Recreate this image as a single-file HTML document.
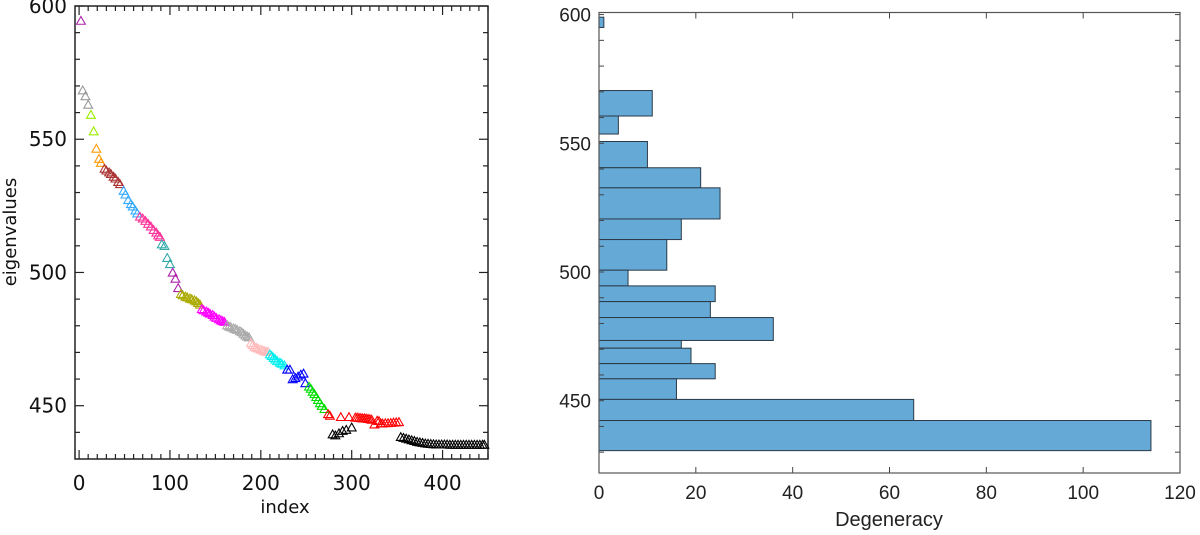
<!DOCTYPE html>
<html><head><meta charset="utf-8"><style>
html,body{margin:0;padding:0;background:#fff;}
svg{display:block;}
</style></head><body>
<svg id="chart" width="1200" height="535" xmlns="http://www.w3.org/2000/svg">
<g id="left"></g>
<g id="right"></g>
</svg>
<script>
// ---- Left chart data ----
const groupColors = ['#aa22aa','#999999','#99ee00','#ff9900','#aa3333','#33aaff','#ff3399','#33aaaa','#aa22aa','#aaaa00','#ff00ff','#aaaaaa','#ffbbbb','#00eeee','#0000ff','#00dd00','#ff0000','#000000'];
const pointIndex = [2, 4,7,10, 13,16, 19,22,24, 28,30,33,35,38,40,43,45, 49,51,54,57,59,62,64, 67,70,73,76,79,82,85,87,89, 91,94,97,100, 103,106,109,
112,114,117,119,122,124,127,129,131,133, 135,137,140,142,144,147,149,151,154,156,158,160,
163,165,167,170,172,174,177,179,181,183,185,187, 189,191,193,195,197,200,202,204,206,208,
210,212,214,216,218,221,223,226, 229,232,235,238,241,244,247,249, 253,255,257,259,261,263,265,267,270,
274,276,288,297,304,306,308,310,312,314,316,318,320,322,325,328,330,332,334,337,340,343,346,349,352,
279,282,286,290,294,300, 354,357,360,363,366,369,372,375,378,381,384,387,390,393,396,399,402,405,408,411,414,417,420,423,426,429,432,435,438,441,444,446];
const eigenvalues = [594.5, 568.4,566.2,563, 559.2,553, 546.5,542.7,541.2, 539,538.3,537.6,537,536,535.3,534,533.2, 530.7,529.3,527.2,525.7,524.8,523.3,522.2, 521,520.3,519.4,518.3,517.3,516,515,514,513.4, 510.6,510,505.5,503.2, 500,497.7,494.2,
492,491.5,491,490.7,490.3,490,489.6,489.2,488.6,488, 486.3,485.9,485.4,485,484.6,484.1,483.5,483,482.5,482.1,481.8,481.5,
480.2,479.8,479.5,479.1,478.8,478.5,478,477.6,477,476.4,476,475.7, 473.5,472.8,472.2,471.8,471.5,471.1,470.8,470.5,470.3,470.2,
469.3,468.7,468,467.4,466.8,466.2,465.8,465.2, 463.6,463.6,460,460.4,461,461.7,462.1,458.5, 457.2,456.4,455.3,454.4,453.3,452.2,451,450,448.8,
446.9,446.3,445.8,445.8,445.6,445.6,445.5,445.4,445.3,445.3,445.2,445.1,445,444.8,443,444.4,444.3,443.4,443.4,443.5,443.5,443.6,443.7,443.8,443.9,
439.3,438.9,439.7,440.6,441,441.9, 438.3,438,437.7,437.4,437.1,436.8,436.5,436.3,436.1,435.9,435.8,435.7,435.6,435.5,435.5,435.5,435.5,435.5,435.4,435.4,435.4,435.4,435.4,435.4,435.4,435.4,435.4,435.4,435.4,435.4,435.4,435.4];
const groupOfPoint = [0, 1,1,1, 2,2, 3,3,3, 4,4,4,4,4,4,4,4, 5,5,5,5,5,5,5, 6,6,6,6,6,6,6,6,6, 7,7,7,7, 8,8,8,
9,9,9,9,9,9,9,9,9,9, 10,10,10,10,10,10,10,10,10,10,10,10,
11,11,11,11,11,11,11,11,11,11,11,11, 12,12,12,12,12,12,12,12,12,12,
13,13,13,13,13,13,13,13, 14,14,14,14,14,14,14,14, 15,15,15,15,15,15,15,15,15,
16,16,16,16,16,16,16,16,16,16,16,16,16,16,16,16,16,16,16,16,16,16,16,16,16,
17,17,17,17,17,17, 17,17,17,17,17,17,17,17,17,17,17,17,17,17,17,17,17,17,17,17,17,17,17,17,17,17,17,17,17,17,17,17];
const leftXTicks = [0,100,200,300,400];
const leftYTicks = [450,500,550,600];

// ---- Right chart data ----
const binLow  = [595,560.6,553.6,540.5,532.7,520.6,512.6,500.7,494.6,488.5,482.3,473.4,470.4,464.4,458.5,450.5,442.3,430.6];
const binHigh = [599,570.5,560.6,550.7,540.5,532.7,520.6,512.6,500.7,494.6,488.5,482.3,473.4,470.4,464.4,458.5,450.5,442.3];
const binCount = [1,11,4,10,21,25,17,14,6,24,23,36,17,19,24,16,65,114];
const rightXTicks = [0,20,40,60,80,100,120];
const rightYTicks = [450,500,550,600];

const NS='http://www.w3.org/2000/svg';
function mk(parent,tag,attrs){const e=document.createElementNS(NS,tag);for(const k in attrs)e.setAttribute(k,attrs[k]);parent.appendChild(e);return e;}

// ---- Left panel ----
const L=document.getElementById('left');
const lx0=75,lx1=488,ly0=6,ly1=459;
const lxs=v=>lx0+(v-(-4.5))/(450-(-4.5))*(lx1-lx0);
const lys=v=>ly1-(v-430)/(600-430)*(ly1-ly0);
for(let v=0;v<=450;v+=10){
  const major=v%100===0, len=major?9:5, x=lxs(v);
  let t=mk(L,'line',{x1:x,x2:x,y1:ly1,y2:ly1-len,stroke:'#222','stroke-width':1.2});
  
  
  t=mk(L,'line',{x1:x,x2:x,y1:ly0,y2:ly0+len,stroke:'#222','stroke-width':1.2});
  
  
}
for(let v=440;v<=600;v+=10){
  const major=v%50===0, len=major?9:5, y=lys(v);
  let t=mk(L,'line',{x1:lx0,x2:lx0+len,y1:y,y2:y,stroke:'#222','stroke-width':1.2});
  
  
  t=mk(L,'line',{x1:lx1,x2:lx1-len,y1:y,y2:y,stroke:'#222','stroke-width':1.2});
  
  
}
let fr=mk(L,'rect',{x:lx0,y:ly0,width:lx1-lx0,height:ly1-ly0,fill:'none',stroke:'#222','stroke-width':1.5});


leftXTicks.forEach(v=>{
  const t=mk(L,'text',{x:lxs(v),y:490,'text-anchor':'middle','font-family':'DejaVu Sans, Liberation Sans, sans-serif','font-size':20,fill:'#111'});
  t.textContent=v;
  
  
});
leftYTicks.forEach(v=>{
  const t=mk(L,'text',{x:67,y:lys(v)+7,'text-anchor':'end','font-family':'DejaVu Sans, Liberation Sans, sans-serif','font-size':20,fill:'#111'});
  t.textContent=v;
  
  
});
let xt=mk(L,'text',{x:285,y:513,'text-anchor':'middle','font-family':'DejaVu Sans, Liberation Sans, sans-serif','font-size':18,fill:'#111'});
xt.textContent='index';


let yt=mk(L,'text',{x:0,y:0,transform:'translate(16,232) rotate(-90)','text-anchor':'middle','font-family':'DejaVu Sans, Liberation Sans, sans-serif','font-size':18,fill:'#111'});
yt.textContent='eigenvalues';


for(let i=0;i<pointIndex.length;i++){
  const x=lxs(pointIndex[i]), y=lys(eigenvalues[i]);
  const p=mk(L,'polygon',{points:`${x-4.4},${y+3.6} ${x+4.4},${y+3.6} ${x},${y-4.2}`,fill:'none',stroke:groupColors[groupOfPoint[i]],'stroke-width':1.1});
  
  
}

// ---- Right panel ----
const R=document.getElementById('right');
const rx0=599,rx1=1180,ry0=12.5,ry1=473;
const rxs=v=>rx0+v/120*(rx1-rx0);
const rys=v=>400.7-(v-450)*2.574;
for(let i=0;i<binCount.length;i++){
  const yTop=rys(binHigh[i]), yBot=rys(binLow[i]);
  const b=mk(R,'rect',{x:rxs(0),y:yTop,width:rxs(binCount[i])-rxs(0),height:yBot-yTop,fill:'#65a9d7',stroke:'#2a3a48','stroke-width':1});
  
  
}
for(let v=430;v<=600;v+=10){
  const y=rys(v);
  let t=mk(R,'line',{x1:rx0,x2:rx0+5,y1:y,y2:y,stroke:'#444','stroke-width':1});
  
  
  t=mk(R,'line',{x1:rx1,x2:rx1-5,y1:y,y2:y,stroke:'#444','stroke-width':1});
  
  
}
rightXTicks.forEach(v=>{
  const x=rxs(v);
  let t=mk(R,'line',{x1:x,x2:x,y1:ry1,y2:ry1-6,stroke:'#444','stroke-width':1});
  
  
  t=mk(R,'line',{x1:x,x2:x,y1:ry0,y2:ry0+6,stroke:'#444','stroke-width':1});
  
  
  const l=mk(R,'text',{x:x,y:499,'text-anchor':'middle','font-family':'Liberation Sans, sans-serif','font-size':19,fill:'#222'});
  l.textContent=v;
  
  
});
rightYTicks.forEach(v=>{
  const l=mk(R,'text',{x:591,y:rys(v)+7,'text-anchor':'end','font-family':'Liberation Sans, sans-serif','font-size':19,fill:'#222'});
  l.textContent=v;
  
  
});
let rf=mk(R,'rect',{x:rx0,y:ry0,width:rx1-rx0,height:ry1-ry0,fill:'none',stroke:'#555','stroke-width':1.2});


let dt=mk(R,'text',{x:889,y:526,'text-anchor':'middle','font-family':'Liberation Sans, sans-serif','font-size':20,fill:'#222'});
dt.textContent='Degeneracy';


</script>
</body></html>
